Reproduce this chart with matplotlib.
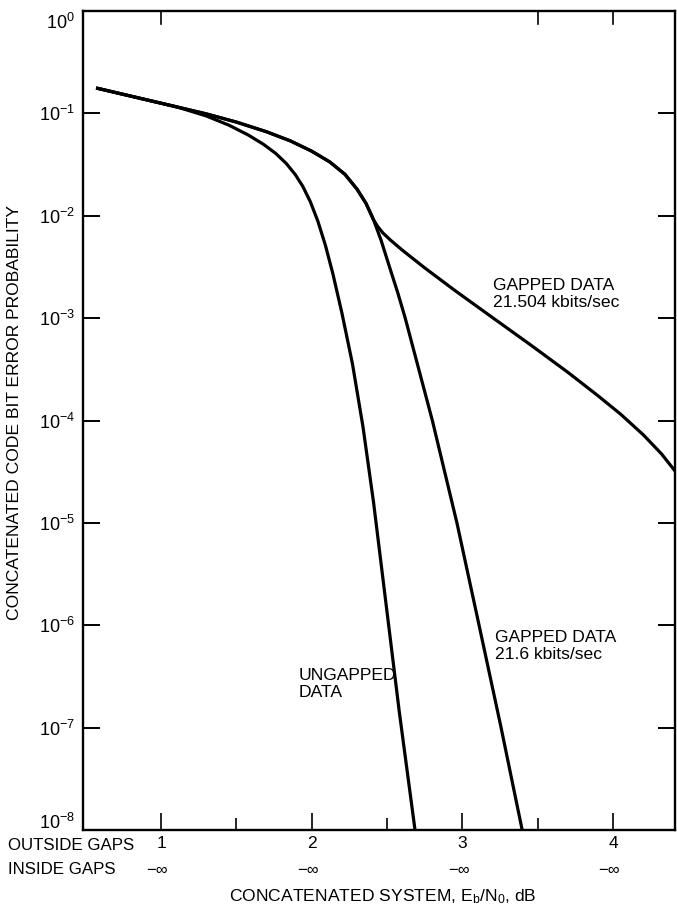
import matplotlib
matplotlib.use("Agg")
import matplotlib.pyplot as plt
import matplotlib.transforms as mtransforms

plt.rcParams['font.family'] = ['Liberation Sans', 'DejaVu Sans']
plt.rcParams['mathtext.fontset'] = 'custom'
plt.rcParams['mathtext.rm'] = 'Liberation Sans'
plt.rcParams['mathtext.it'] = 'Liberation Sans:italic'
plt.rcParams['mathtext.bf'] = 'Liberation Sans:bold'

# Eb/N0 (dB) vs code bit error probability
ungapped_x = [0.569, 1.106, 1.30, 1.45, 1.58, 1.68, 1.76, 1.83, 1.89, 1.94, 1.99,
              2.04, 2.09, 2.14, 2.20, 2.27, 2.34, 2.41, 2.49, 2.58, 2.685]
ungapped_p = [1.77e-1, 1.155e-1, 9.44e-2, 7.67e-2, 6.13e-2, 4.98e-2, 4.07e-2, 3.25e-2, 2.53e-2,
              1.94e-2, 1.375e-2, 8.88e-3, 5.17e-3, 2.71e-3, 1.12e-3, 3.57e-4, 8.63e-5, 1.58e-5,
              1.74e-6, 1.45e-7, 1.0e-8]

# both gapped curves share the same path down to about 1e-2
shared_x = [0.569, 1.106, 1.30, 1.50, 1.70, 1.86, 2.00, 2.12, 2.22, 2.30, 2.36, 2.41]
shared_p = [1.77e-1, 1.155e-1, 9.89e-2, 8.22e-2, 6.61e-2, 5.37e-2, 4.27e-2, 3.35e-2, 2.54e-2,
            1.82e-2, 1.32e-2, 9.12e-3]

gap216_x = shared_x + [2.46, 2.52, 2.57, 2.62, 2.80, 2.963, 3.11, 3.256, 3.396]
gap216_p = shared_p + [5.75e-3, 3.02e-3, 1.78e-3, 1.0e-3, 1.0e-4, 1.0e-5, 1.0e-6, 1.0e-7, 1.0e-8]

gap21504_x = shared_x + [2.435, 2.47, 2.52, 2.60, 2.75, 2.95, 3.20, 3.45, 3.70, 3.90,
                         4.05, 4.20, 4.32, 4.43]
gap21504_p = shared_p + [7.94e-3, 6.84e-3, 5.82e-3, 4.62e-3, 3.09e-3, 1.86e-3, 1.01e-3, 5.5e-4,
                         2.95e-4, 1.74e-4, 1.15e-4, 7.24e-5, 4.73e-5, 2.95e-5]

outside_ticks = [1, 2, 3, 4]
outside_labels = ['1', '2', '3', '4']
inside_labels = ['\u2212\u221e'] * 4
decades = [1e0, 1e-1, 1e-2, 1e-3, 1e-4, 1e-5, 1e-6, 1e-7, 1e-8]
decade_labels = ['$10^{0}$', '$10^{-1}$', '$10^{-2}$', '$10^{-3}$', '$10^{-4}$',
                 '$10^{-5}$', '$10^{-6}$', '$10^{-7}$', '$10^{-8}$']

fig = plt.figure(figsize=(6.77, 9.09), dpi=100)
ax = fig.add_axes([83 / 677, 1 - 830 / 909, (675 - 83) / 677, (830 - 11) / 909])

lw = 2.3
for xs, ps in [(ungapped_x, ungapped_p), (gap216_x, gap216_p), (gap21504_x, gap21504_p)]:
    ax.plot(xs, ps, color='black', lw=lw, solid_joinstyle='round', solid_capstyle='butt')

ax.set_yscale('log')
ax.set_xlim(0.482, 4.41)
ax.set_ylim(1e-8, 1e0)

for s in ax.spines.values():
    s.set_linewidth(1.7)

ax.set_yticks(decades)
ax.set_yticklabels(decade_labels, fontsize=13)
ax.yaxis.set_minor_locator(matplotlib.ticker.NullLocator())
ax.tick_params(axis='y', which='major', direction='in', length=12, width=1.4,
               left=True, right=True, pad=6)

# pull the end labels inside the frame height
ylabels = ax.get_yticklabels()
ylabels[0].set_transform(ylabels[0].get_transform() +
                         mtransforms.ScaledTranslation(0, -10 / 100, fig.dpi_scale_trans))
ylabels[-1].set_transform(ylabels[-1].get_transform() +
                          mtransforms.ScaledTranslation(0, 9 / 100, fig.dpi_scale_trans))

ax.set_xticks(outside_ticks)
ax.set_xticklabels(outside_labels, fontsize=12.5)
ax.set_xticks([1.5, 2.5, 3.5], minor=True)
ax.tick_params(axis='x', which='major', direction='in', length=12, width=1.2,
               bottom=True, top=False, pad=4)
ax.tick_params(axis='x', which='minor', direction='in', length=9, width=1.2,
               bottom=True, top=False)

# short ticks hanging from the top frame
for xt in [1, 3.5, 4]:
    ax.plot([xt, xt], [1e0, 10 ** -0.13], color='black', lw=1.2, clip_on=False)

# second row of x labels (Eb/N0 inside the gaps)
trans = mtransforms.blended_transform_factory(ax.transData, fig.transFigure)
for xt, lab in zip(outside_ticks, inside_labels):
    ax.text(xt - 0.025, 1 - 870 / 909, lab, transform=trans, ha='center', va='center', fontsize=12)

fig.text(8 / 677, 1 - 845 / 909, 'OUTSIDE GAPS', ha='left', va='center', fontsize=12.2)
fig.text(8 / 677, 1 - 870 / 909, 'INSIDE GAPS', ha='left', va='center', fontsize=12.2)
fig.text(383 / 677, 1 - 897 / 909, 'CONCATENATED SYSTEM, E$_{\\mathrm{b}}$/N$_{0}$, dB',
         ha='center', va='center', fontsize=12.6)
fig.text(15 / 677, 1 - 412 / 909, 'CONCATENATED CODE BIT ERROR PROBABILITY',
         rotation=90, ha='center', va='center', fontsize=12.6)

# curve labels
ax.text(3.203, 1.72e-3, 'GAPPED DATA\n21.504 kbits/sec', ha='left', va='center',
        fontsize=12.6, linespacing=1.2)
ax.text(3.216, 6.3e-7, 'GAPPED DATA\n21.6 kbits/sec', ha='left', va='center',
        fontsize=12.6, linespacing=1.2)
ax.text(1.916, 2.68e-7, 'UNGAPPED\nDATA', ha='left', va='center',
        fontsize=12.6, linespacing=1.2)

fig.savefig('out.png', dpi=100)
